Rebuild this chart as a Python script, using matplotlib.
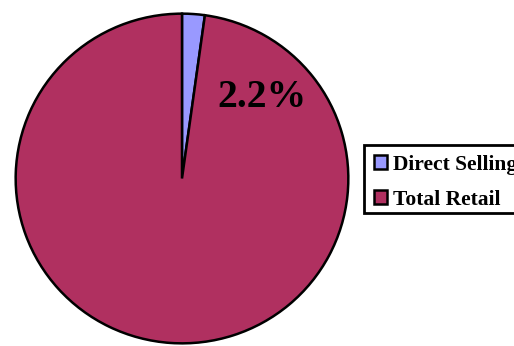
import matplotlib
matplotlib.use("Agg")
import matplotlib.pyplot as plt
from matplotlib.patches import Patch, Rectangle

categories = ["Direct Selling", "Total Retail"]
shares = [2.2, 97.8]
colors = ["#9999FF", "#B03060"]
label_text = "2.2%"

W, H = 514, 346
fig = plt.figure(figsize=(W / 100, H / 100), dpi=100)
fig.patch.set_facecolor("white")

# pie axes spans the circle's bounding box (pixel coords converted to fractions)
left, right, top, bottom = 14, 350, 12, 345
ax = fig.add_axes([left / W, 1 - bottom / H, (right - left) / W, (bottom - top) / H])
ax.pie(shares, colors=colors, startangle=90, counterclock=False,
       wedgeprops=dict(edgecolor="black", linewidth=1.8), radius=1.0)
ax.set_xlim(-1.01, 1.01)
ax.set_ylim(-1.01, 1.01)
ax.set_aspect("auto")
ax.axis("off")

ax.text(0.48, 0.49, label_text, fontsize=28.5, fontweight="bold",
        family="Liberation Serif", ha="center", va="center")

# legend box drawn as a plain rectangle running off the right edge
fig.patches.append(Rectangle((364 / W, 1 - 213 / H), 160 / W, 68 / H,
                             transform=fig.transFigure, facecolor="white",
                             edgecolor="black", linewidth=2, zorder=1))

handles = [Patch(facecolor=c, edgecolor="black", linewidth=1.8) for c in colors]
leg = fig.legend(handles, categories, loc="upper left",
                 bbox_to_anchor=(364 / W, 1 - 145 / H),
                 prop=dict(family="Liberation Serif", weight="bold", size=15.5),
                 frameon=False, handlelength=0.6, handleheight=0.6,
                 handletextpad=0.3, labelspacing=0.7, borderpad=0.45, borderaxespad=0)
leg.set_zorder(2)

fig.savefig("out.png", dpi=100)
